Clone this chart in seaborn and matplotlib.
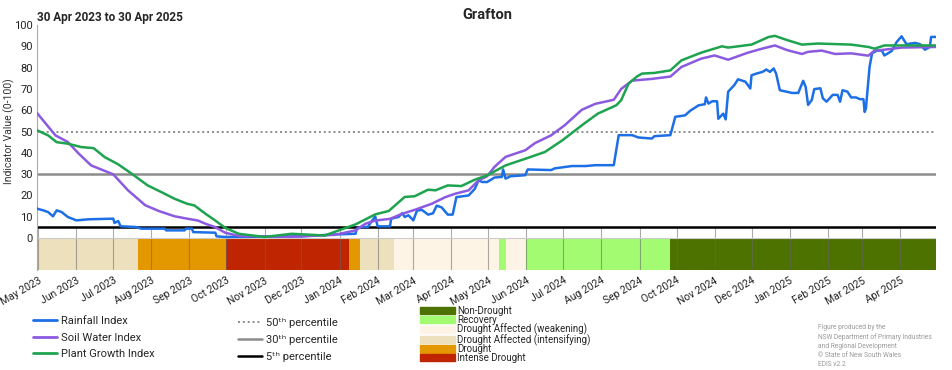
import pandas as pd
import matplotlib.pyplot as plt
import seaborn as sns
from matplotlib.lines import Line2D
from matplotlib.patches import Patch

# --- data (day offsets from 30 Apr 2023, values 0-100) ---
start = pd.Timestamp("2023-04-30")
end = pd.Timestamp("2025-04-30")

rain_days = [0, 5, 9, 13, 16, 20, 25, 32, 42, 62, 63, 66, 68, 80, 85, 104, 105, 120, 121, 126,
             127, 145, 146, 153, 215, 242, 259, 260, 264, 269, 272, 275, 277, 287, 288, 294, 297,
             299, 302, 306, 309, 313, 318, 322, 325, 329, 334, 338, 341, 351, 356, 359, 362, 366,
             372, 378, 379, 381, 385, 397, 399, 418, 421, 435, 446, 454, 469, 473, 484, 489, 500,
             502, 515, 519, 527, 531, 538, 543, 544, 546, 549, 553, 554, 558, 560, 562, 567, 570,
             576, 580, 581, 585, 590, 593, 596, 599, 601, 604, 614, 619, 623, 625, 627, 630, 632,
             637, 639, 642, 647, 651, 653, 655, 659, 662, 666, 669, 672, 673, 674, 677, 679, 683,
             687, 689, 695, 699, 703, 707, 714, 718, 722, 726, 727, 731]
rain_vals = [13.8, 13.0, 12.2, 10.2, 13.0, 12.2, 9.9, 8.3, 8.8, 9.1, 7.1, 8.0, 5.5, 5.2, 4.4, 4.4,
             3.6, 3.6, 4.4, 4.4, 2.8, 2.5, 0.8, 0.5, 0.8, 1.7, 2.0, 4.4, 5.2, 5.2, 7.8, 10.1, 5.5,
             5.5, 9.1, 9.9, 11.7, 9.9, 10.7, 8.3, 12.9, 13.2, 11.0, 11.6, 15.2, 14.4, 11.0, 11.0,
             19.2, 20.0, 23.1, 27.1, 26.3, 26.3, 28.4, 28.7, 32.2, 27.9, 29.0, 29.5, 32.2, 31.9,
             32.7, 33.8, 33.8, 34.2, 34.2, 48.3, 48.3, 47.2, 46.7, 47.8, 48.3, 56.9, 57.6, 59.7,
             62.3, 62.8, 66.0, 63.1, 64.2, 64.2, 56.0, 58.4, 55.7, 68.7, 71.8, 74.5, 73.4, 70.2,
             76.4, 77.2, 78.0, 79.1, 78.0, 79.6, 77.2, 69.4, 68.1, 68.1, 73.8, 71.0, 62.5, 64.8,
             69.9, 70.3, 65.6, 64.0, 67.2, 67.2, 64.0, 69.4, 68.7, 66.0, 66.0, 65.2, 65.2, 59.2,
             60.8, 80.4, 86.7, 88.0, 88.0, 85.7, 87.8, 92.0, 94.7, 91.0, 91.6, 91.0, 88.4, 89.7,
             94.4, 94.4]

soil_days = [0, 15, 25, 34, 44, 62, 74, 88, 99, 112, 122, 131, 137, 145, 153, 164, 206, 242, 259,
             267, 275, 287, 297, 307, 321, 332, 340, 351, 359, 366, 372, 381, 397, 405, 418, 429,
             443, 454, 469, 475, 484, 500, 515, 524, 540, 551, 562, 578, 589, 600, 610, 622, 627,
             638, 649, 662, 676, 681, 689, 703, 731]
soil_vals = [58.7, 48.2, 45.1, 39.6, 34.1, 29.9, 22.4, 15.4, 12.7, 10.2, 9.1, 8.2, 6.7, 5.1, 2.5,
             1.0, 0.6, 1.5, 3.6, 6.7, 8.2, 9.0, 11.4, 13.2, 16.1, 19.2, 20.8, 22.4, 27.1, 29.0,
             33.4, 38.1, 41.2, 44.6, 48.2, 52.9, 60.2, 63.0, 64.9, 70.0, 73.9, 74.7, 75.8, 80.3,
             84.2, 85.7, 83.7, 87.0, 88.8, 90.4, 88.2, 86.4, 87.4, 88.0, 86.4, 86.7, 85.6, 88.0,
             88.4, 89.4, 89.7]

plant_days = [0, 9, 16, 25, 36, 46, 55, 66, 77, 90, 101, 112, 122, 128, 137, 145, 153, 164, 185,
              207, 234, 244, 259, 275, 286, 299, 307, 318, 324, 334, 345, 356, 366, 381, 397, 413,
              427, 443, 456, 471, 475, 481, 488, 492, 502, 515, 524, 540, 557, 562, 581, 595, 600,
              610, 622, 635, 662, 676, 681, 689, 731]
plant_vals = [50.6, 48.2, 45.0, 44.3, 42.7, 42.2, 38.0, 34.6, 30.2, 24.7, 21.6, 18.4, 16.1, 15.3,
              11.4, 8.2, 4.8, 2.0, 0.5, 2.0, 1.2, 3.3, 6.4, 11.1, 12.7, 19.3, 19.6, 22.7, 22.4,
              24.7, 24.4, 27.4, 29.4, 34.1, 37.2, 40.4, 45.8, 52.9, 58.4, 62.3, 64.7, 72.5, 75.9,
              77.2, 77.5, 78.7, 83.4, 87.0, 90.0, 89.4, 90.8, 94.4, 94.9, 92.9, 90.8, 91.3, 90.8,
              89.7, 88.9, 90.4, 90.4]

# drought category periods
band_starts = ["2023-04-30", "2023-07-21", "2023-10-01", "2024-01-09", "2024-01-18",
               "2024-02-14", "2024-05-10", "2024-05-15", "2024-06-01", "2024-09-26"]
band_cats = ["Drought Affected (intensifying)", "Drought", "Intense Drought", "Drought",
             "Drought Affected (intensifying)", "Drought Affected (weakening)", "Recovery",
             "Drought Affected (weakening)", "Recovery", "Non-Drought"]

cat_names = ["Non-Drought", "Recovery", "Drought Affected (weakening)",
             "Drought Affected (intensifying)", "Drought", "Intense Drought"]
cat_colors = ["#4e7200", "#a3fb72", "#fdf4e6", "#ede0bd", "#e49800", "#bf2500"]

series_names = ["Rainfall Index", "Soil Water Index", "Plant Growth Index"]
series_colors = ["#1d6fe6", "#8b5ae0", "#1ea34f"]

pct_labels = ["50\u1d57\u02b0 percentile", "30\u1d57\u02b0 percentile", "5\u1d57\u02b0 percentile"]

frames = []
for name, days, vals in zip(series_names, [rain_days, soil_days, plant_days],
                            [rain_vals, soil_vals, plant_vals]):
    frames.append(pd.DataFrame({"date": start + pd.to_timedelta(days, unit="D"),
                                "value": vals, "series": name}))
df = pd.concat(frames, ignore_index=True)

# --- figure ---
sns.set_style("white")
plt.rcParams["font.family"] = ["Roboto", "DejaVu Sans"]

fig = plt.figure(figsize=(9.52, 3.70), dpi=100)
ax = fig.add_axes([37 / 952, 1 - 270 / 370, (936 - 37) / 952, (270 - 25) / 370])

# drought bands
bs = pd.to_datetime(band_starts)
be = list(bs[1:]) + [end]
cmap = dict(zip(cat_names, cat_colors))
for s, e, c in zip(bs, be, band_cats):
    ax.fill_between([s, e], -15, 0, color=cmap[c], lw=0)

months = pd.date_range("2023-05-01", "2025-04-01", freq="MS")
ax.vlines(months, -15, 5, color="#666666", lw=0.8, alpha=0.55, zorder=1)
ax.axhline(0, color="#cccccc", lw=0.8, zorder=1)

# percentile lines
ax.axhline(50, color="#8c8c8c", lw=1.4, ls=(0, (1, 1.5)), zorder=2)
ax.axhline(30, color="#8c8c8c", lw=1.8, zorder=2)
ax.axhline(5, color="black", lw=1.8, zorder=2)

sns.lineplot(data=df, x="date", y="value", hue="series", hue_order=series_names,
             palette=series_colors, lw=1.8, legend=False, ax=ax, zorder=3)

ax.set_xlim(start, end)
ax.set_ylim(-15, 100)
ax.set_yticks(list(range(0, 101, 10)) + [-7.5])
ax.set_yticklabels([str(v) for v in range(0, 101, 10)] + [""])
ax.set_xticks(months)
ax.set_xticklabels([m.strftime("%b %Y") for m in months], rotation=30, ha="right",
                   rotation_mode="anchor", fontsize=7.5, color="#222222")
ax.tick_params(axis="x", length=0, pad=4)
ax.tick_params(axis="y", direction="in", length=7, width=0.8, color="#bbbbbb",
               labelsize=8, labelcolor="#222222", pad=3)
ax.set_xlabel("")
ax.set_ylabel("")
for sp in ["top", "right", "bottom"]:
    ax.spines[sp].set_visible(False)
ax.spines["left"].set_color("#aaaaaa")
ax.spines["left"].set_linewidth(0.8)

fig.text(37 / 952, 1 - 17 / 370, "30 Apr 2023 to 30 Apr 2025", fontsize=8.5,
         fontweight="bold", va="center", ha="left")
fig.text(487 / 952, 1 - 15 / 370, "Grafton", fontsize=10.5, fontweight="bold",
         va="center", ha="center")
fig.text(9 / 952, 1 - 131 / 370, "Indicator Value (0-100)", fontsize=7.5, rotation=90,
         va="center", ha="center", color="#333333")

# legends
h1 = [Line2D([], [], color=c, lw=2) for c in series_colors]
fig.legend(h1, series_names, loc="upper left", bbox_to_anchor=(33 / 952, 1 - 316 / 370),
           frameon=False, fontsize=8, handlelength=2.2, handletextpad=0.3,
           labelspacing=0.6, borderpad=0, borderaxespad=0)

h2 = [Line2D([], [], color="#8c8c8c", lw=1.4, ls=(0, (1, 1.5))),
      Line2D([], [], color="#8c8c8c", lw=1.8),
      Line2D([], [], color="black", lw=1.8)]
fig.legend(h2, pct_labels, loc="upper left", bbox_to_anchor=(238 / 952, 1 - 318 / 370),
           frameon=False, fontsize=8, handlelength=2.2, handletextpad=0.3,
           labelspacing=0.62, borderpad=0, borderaxespad=0)

h3 = [Patch(color=c) for c in cat_colors]
fig.legend(h3, cat_names, loc="upper left", bbox_to_anchor=(420 / 952, 1 - 306 / 370),
           frameon=False, fontsize=7, handlelength=3.6, handleheight=0.75,
           handletextpad=0.2, labelspacing=-0.12, borderpad=0, borderaxespad=0)

fig.text(818 / 952, 1 - 324 / 370,
         "Figure produced by the\nNSW Department of Primary Industries\n"
         "and Regional Development\n\u00a9 State of New South Wales\nEDIS v2.2",
         fontsize=4.8, color="#999999", va="top", ha="left", linespacing=1.4)

fig.savefig("out.png", dpi=100)
